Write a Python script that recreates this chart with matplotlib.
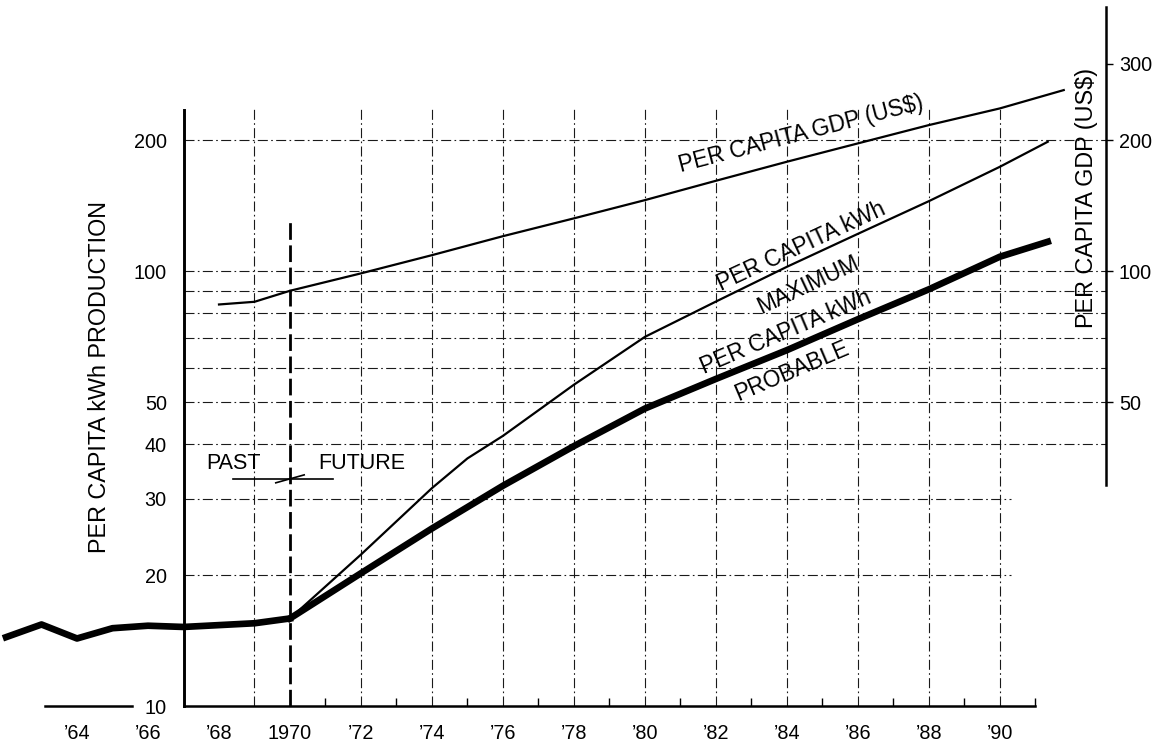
import matplotlib
matplotlib.use("Agg")
import matplotlib.pyplot as plt
from matplotlib.ticker import NullLocator

plt.rcParams['font.family'] = ['Liberation Sans', 'DejaVu Sans']

# per capita kWh production, recorded
hist_years = [1962, 1963, 1964, 1965, 1966, 1967, 1969, 1970]
hist_kwh = [14.4, 15.4, 14.3, 15.1, 15.3, 15.2, 15.5, 15.9]

# projections from 1970
prob_years = [1970, 1972, 1974, 1976, 1978, 1980, 1982, 1984, 1986, 1988, 1990, 1991.35]
kwh_probable = [15.9, 20.2, 25.6, 32.1, 39.6, 48.3, 56.5, 65.8, 77.5, 90.8, 107.9, 116.8]
max_years = [1970, 1972, 1974, 1975, 1976, 1978, 1980, 1982, 1984, 1986, 1988, 1990, 1991.35]
kwh_maximum = [15.9, 22.3, 31.7, 37.1, 41.8, 54.8, 70.6, 85.1, 102.3, 121.8, 144.8, 173.7, 198.3]

# per capita GDP (US$), right scale
gdp_years = [1968, 1969, 1970, 1972, 1974, 1976, 1978, 1980, 1982, 1984, 1986, 1988, 1990, 1991.8]
gdp = [83.8, 85.0, 90.1, 98.8, 108.8, 120.3, 132.2, 145.6, 161.3, 178.4, 196.6, 216.6, 236.6, 260.7]

x_ticks = list(range(1964, 1991, 2))
x_labels = ["’64", "’66", "’68", "1970", "’72", "’74", "’76", "’78", "’80",
            "’82", "’84", "’86", "’88", "’90"]
left_ticks = [10, 20, 30, 40, 50, 100, 200]
right_ticks = [50, 100, 200, 300]
grid_h = [20, 30, 40, 50, 60, 70, 80, 90, 100, 200]
grid_v = [1969] + list(range(1972, 1991, 2))

fig = plt.figure(figsize=(11.61, 7.44), dpi=100)
ax = fig.add_axes([0, 0, 1, 1])
ax.set_yscale('log')
ax.set_xlim(1961.83, 1994.54)
ax.set_ylim(8.18, 420)

grid = dict(color='#1a1a1a', lw=0.8, ls=(0, (9, 3, 1.5, 3)), zorder=1)
for v in grid_h:
    ax.hlines(v, 1967, 1993 if v >= 40 else 1990.3, **grid)
for yr in grid_v:
    ax.vlines(yr, 10, 237, **grid)

# past / future divider
ax.vlines(1970, 10, 130, color='black', lw=2, ls=(0, (6, 2)), zorder=2)
ax.plot([1968.4, 1971.2], [33.2, 33.2], color='black', lw=1.2)
ax.plot([1969.6, 1970.4], [32.6, 34.0], color='black', lw=1.2)
ax.text(1968.42, 36.2, "PAST", fontsize=15.5, ha='center', va='center')
ax.text(1972.03, 36.2, "FUTURE", fontsize=15.5, ha='center', va='center')

ax.plot(hist_years, hist_kwh, color='black', lw=4.8, zorder=3)
ax.plot(prob_years, kwh_probable, color='black', lw=4.8, zorder=3)
ax.plot(max_years, kwh_maximum, color='black', lw=1.6, zorder=3)
ax.plot(gdp_years, gdp, color='black', lw=1.6, zorder=3)

# line labels
lab = dict(fontsize=16.3, ha='center', va='center', rotation_mode='anchor')
ax.text(1984.4, 207, "PER CAPITA GDP (US$)", rotation=14.6, **lab)
ax.text(1984.4, 114, "PER CAPITA kWh", rotation=25, **lab)
ax.text(1984.59, 93, "MAXIMUM", rotation=25, **lab)
ax.text(1983.97, 72.4, "PER CAPITA kWh", rotation=23, **lab)
ax.text(1984.14, 58.8, "PROBABLE", rotation=23, **lab)

# axes lines
for s in ['top', 'right']:
    ax.spines[s].set_visible(False)
ax.spines['left'].set_position(('data', 1967))
ax.spines['left'].set_bounds(10, 235)
ax.spines['bottom'].set_position(('data', 10))
ax.spines['bottom'].set_bounds(1967, 1991)
ax.spines['left'].set_linewidth(2.1)
ax.spines['bottom'].set_linewidth(1.8)
ax.plot([1963.1, 1965.55], [10, 10], color='black', lw=1.8)

ax.set_xticks(x_ticks, x_labels)
ax.set_xticks(list(range(1971, 1992, 2)), minor=True)
ax.tick_params(axis='x', which='major', length=0, pad=13, labelsize=14.3)
ax.tick_params(axis='x', which='minor', direction='in', length=6, width=1)
ax.set_yticks(left_ticks, [str(v) for v in left_ticks])
ax.yaxis.set_minor_locator(NullLocator())
ax.tick_params(axis='y', length=0, pad=12, labelsize=14.3)

ax.text(100 / 1161, 1 - 377 / 744, "PER CAPITA kWh PRODUCTION", fontsize=16.8,
        rotation=90, ha='center', va='center', transform=ax.transAxes)

ax2 = ax.twinx()
ax2.set_yscale('log')
ax2.set_ylim(ax.get_ylim())
for s in ['top', 'left', 'bottom']:
    ax2.spines[s].set_visible(False)
ax2.spines['right'].set_position(('data', 1993))
ax2.spines['right'].set_bounds(32.2, 404)
ax2.spines['right'].set_linewidth(1.8)
ax2.set_yticks(right_ticks, [str(v) for v in right_ticks])
ax2.yaxis.set_minor_locator(NullLocator())
ax2.tick_params(axis='y', direction='out', length=5, width=1, pad=4, labelsize=14.3)

ax.text(1087 / 1161, 1 - 198 / 744, "PER CAPITA GDP (US$)", fontsize=16.8,
        rotation=90, ha='center', va='center', transform=ax.transAxes)

fig.savefig("out.png", dpi=100)
